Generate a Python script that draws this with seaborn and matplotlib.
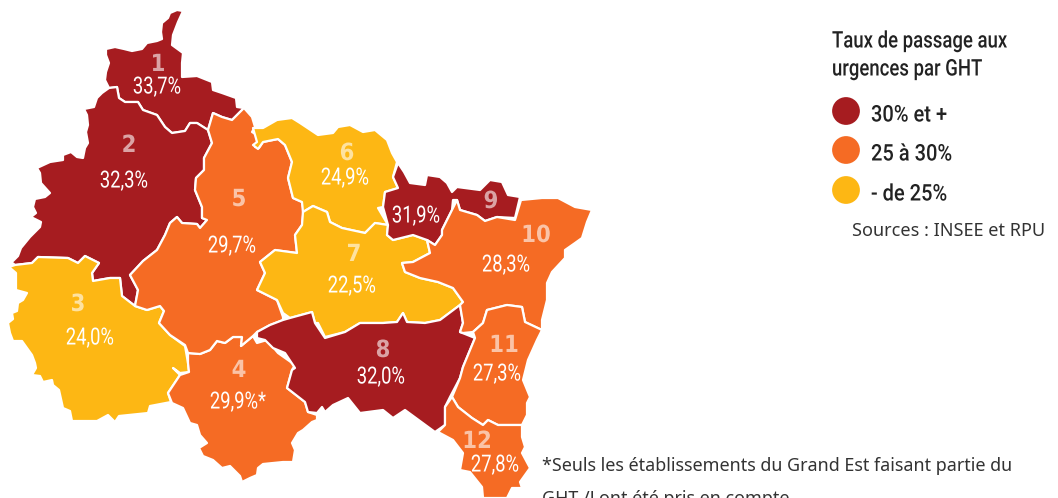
import matplotlib.patheffects as pe
import matplotlib.pyplot as plt
import pandas as pd
import seaborn as sns
from matplotlib.transforms import Affine2D

# GHT outlines (pixels)
ght_1 = [(183,11),(177,10),(170,13),(168,18),(162,23),(161,32),(162,39),(157,41),(147,43),(142,49),(132,51),(124,49),(115,47),(106,49),(106,55),(109,63),(106,72),(105,80),(109,88),(117,87),(119,98),(125,102),(138,102),(143,110),(157,115),(165,127),(172,133),(185,131),(190,123),(197,123),(208,130),(213,113),(222,117),(232,120),(244,108),(237,107),(236,98),(222,93),(213,90),(212,82),(197,76),(182,77),(182,63),(183,53),(172,45),(173,35),(178,22)]
ght_2 = [(109,88),(117,87),(119,98),(125,102),(138,102),(143,110),(157,115),(165,127),(172,133),(185,131),(190,123),(197,123),(208,130),(212,143),(204,158),(204,170),(196,178),(195,190),(202,207),(202,218),(207,220),(200,228),(197,224),(182,223),(177,217),(170,223),(165,235),(157,250),(143,261),(130,275),(138,290),(135,306),(122,296),(120,278),(110,278),(93,281),(92,273),(99,263),(85,256),(78,263),(68,258),(38,257),(32,263),(15,265),(10,261),(13,261),(18,256),(21,248),(30,237),(40,227),(41,222),(31,217),(36,213),(33,207),(35,199),(45,197),(50,193),(41,183),(40,173),(37,168),(50,162),(63,160),(63,155),(71,152),(77,157),(83,158),(85,148),(88,143),(86,132),(88,125),(87,115),(84,109),(94,107),(97,98),(102,93)]
ght_3 = [(9,267),(15,265),(32,263),(38,257),(68,258),(78,263),(85,256),(99,263),(92,273),(93,281),(110,278),(120,278),(122,296),(135,306),(147,310),(160,306),(164,311),(159,323),(170,335),(185,346),(188,363),(189,372),(180,373),(173,368),(180,375),(168,393),(171,402),(150,406),(148,413),(119,416),(115,422),(108,415),(97,421),(72,421),(70,411),(63,408),(59,390),(53,385),(52,380),(43,382),(40,376),(32,375),(36,368),(35,363),(32,355),(22,341),(13,341),(10,333),(8,323),(13,319),(12,313),(17,311),(18,303),(23,300),(27,293),(16,290),(16,273)]
ght_4 = [(188,353),(200,354),(210,350),(217,341),(225,343),(233,337),(242,337),(241,346),(253,336),(257,343),(267,340),(278,353),(295,365),(292,370),(287,388),(305,402),(308,412),(317,415),(317,420),(312,422),(303,430),(298,433),(292,443),(295,450),(293,462),(283,462),(273,463),(263,464),(258,468),(257,475),(250,478),(242,482),(240,476),(230,466),(222,468),(213,460),(203,456),(199,448),(207,443),(200,435),(197,425),(190,423),(183,408),(172,403),(168,393),(180,375),(189,372),(188,363)]
ght_5 = [(244,108),(252,117),(255,127),(252,132),(257,135),(257,143),(255,147),(259,148),(263,142),(278,139),(285,145),(292,162),(288,178),(293,198),(302,202),(303,208),(303,215),(302,225),(295,235),(297,253),(275,250),(260,262),(265,273),(257,290),(277,300),(283,317),(283,320),(270,325),(257,332),(253,336),(241,346),(242,337),(233,337),(225,343),(217,341),(210,350),(200,354),(188,353),(185,345),(170,335),(159,323),(164,311),(160,306),(147,310),(135,306),(138,290),(130,275),(143,261),(157,250),(165,235),(170,223),(177,217),(182,223),(197,224),(200,228),(207,220),(202,218),(202,207),(195,190),(196,178),(204,170),(204,158),(212,143),(208,130),(213,113),(222,117),(232,120)]
ght_6 = [(257,128),(263,128),(277,120),(292,118),(300,123),(318,135),(333,133),(338,127),(350,125),(363,132),(375,130),(387,140),(392,153),(397,162),(393,177),(398,188),(385,192),(383,207),(378,208),(388,225),(375,223),(365,233),(342,228),(330,222),(327,212),(313,206),(303,212),(302,202),(293,198),(288,178),(292,162),(285,145),(278,139),(263,142),(258,149),(253,145),(257,142),(253,128)]
ght_7 = [(303,212),(313,206),(327,212),(330,222),(342,228),(365,233),(375,223),(388,225),(387,235),(393,240),(413,235),(427,240),(430,253),(413,262),(402,263),(405,272),(420,278),(438,282),(453,288),(463,302),(460,305),(440,320),(425,323),(407,322),(403,313),(397,322),(383,323),(360,323),(345,332),(325,337),(318,323),(315,323),(312,312),(290,318),(283,313),(277,300),(257,290),(265,273),(260,262),(275,250),(297,253),(295,235),(302,225)]
ght_8 = [(257,332),(270,325),(283,320),(290,318),(312,312),(315,323),(325,338),(345,332),(360,323),(383,323),(397,322),(403,313),(407,322),(425,323),(440,320),(460,305),(463,323),(460,332),(475,338),(463,367),(460,378),(450,397),(445,407),(445,425),(435,432),(405,410),(393,418),(383,410),(360,413),(348,398),(333,405),(325,412),(322,407),(317,413),(308,412),(305,402),(287,388),(292,370),(295,368),(285,353),(273,348),(265,340),(257,338)]
ght_9 = [(398,163),(404,172),(410,183),(425,185),(427,175),(440,177),(447,183),(452,192),(457,187),(480,190),(490,180),(502,182),(508,195),(520,197),(515,218),(497,217),(485,221),(477,215),(460,210),(457,200),(453,200),(452,210),(442,230),(442,235),(435,245),(427,240),(413,235),(393,240),(387,235),(388,225),(383,207),(385,192),(398,188),(393,177)]
ght_10 = [(457,200),(460,210),(477,215),(485,221),(497,217),(515,220),(521,200),(542,198),(558,198),(575,207),(592,210),(587,222),(582,238),(575,243),(565,250),(565,258),(552,272),(547,283),(547,300),(542,320),(542,330),(525,322),(522,307),(507,305),(487,310),(483,323),(473,332),(463,333),(460,332),(463,323),(460,305),(463,302),(453,288),(438,282),(420,278),(405,272),(402,263),(413,262),(430,253),(427,240),(435,245),(442,235),(442,230),(452,210)]
ght_11 = [(475,338),(463,367),(460,378),(452,397),(458,407),(472,418),(483,425),(488,420),(498,425),(522,425),(527,415),(527,403),(530,397),(523,380),(528,360),(537,340),(542,330),(525,322),(522,307),(507,305),(487,310),(483,323),(473,332)]
ght_12 = [(452,397),(458,407),(472,418),(483,425),(488,420),(498,425),(522,425),(522,437),(525,447),(522,453),(530,468),(520,482),(522,488),(512,488),(507,498),(483,498),(482,487),(470,472),(460,470),(463,453),(453,440),(438,432),(445,425),(445,407)]

outlines = [ght_1, ght_2, ght_3, ght_4, ght_5, ght_6, ght_7, ght_8, ght_9, ght_10, ght_11, ght_12]
numbers = ['1', '2', '3', '4', '5', '6', '7', '8', '9', '10', '11', '12']
taux = ['33,7%', '32,3%', '24,0%', '29,9%*', '29,7%', '24,9%', '22,5%', '32,0%', '31,9%', '28,3%', '27,3%', '27,8%']
classes = [0, 0, 2, 1, 1, 2, 2, 0, 0, 1, 1, 1]
legend_labels = ['30% et +', '25 à 30%', '- de 25%']

number_x = [158, 129, 78, 239, 239, 347, 354, 383, 491, 536, 504, 477]
number_y = [64, 145, 304, 370, 199, 153, 254, 350, 201, 235, 345, 441]
taux_x = [157, 124, 90, 238, 232, 345, 352, 381, 416, 506, 497, 495]
taux_y = [87, 181, 338, 402, 246, 178, 286, 377, 216, 265, 374, 465]

palette = sns.color_palette(['#A61C20', '#F56B24', '#FDB714'])


class Squeeze(pe.AbstractPathEffect):
    # narrows the glyphs around x0, no condensed font is installed
    def __init__(self, x0, factor):
        super().__init__()
        self.x0 = x0
        self.factor = factor

    def draw_path(self, renderer, gc, tpath, affine, rgbFace=None):
        squeeze = Affine2D().translate(-self.x0, 0).scale(self.factor, 1).translate(self.x0, 0)
        renderer.draw_path(gc, tpath, affine + squeeze, rgbFace)


sns.set_theme(style='white')
plt.rcParams['font.family'] = ['Roboto', 'DejaVu Sans']

fig, ax = plt.subplots(figsize=(10.58, 4.98), dpi=100)
ax.set_position([0, 0, 1, 1])

for outline, c in zip(outlines, classes):
    xs, ys = zip(*outline)
    ax.fill(xs, ys, facecolor=palette[c], edgecolor='white', linewidth=1.6, joinstyle='round')

# legend
legend = pd.DataFrame({'x': [846, 846, 846], 'y': [111, 150, 190], 'label': legend_labels})
sns.scatterplot(data=legend, x='x', y='y', hue='label', palette=palette, s=400, linewidth=0, legend=False, ax=ax)
ax.set_xlim(0, 1058)
ax.set_ylim(498, 0)
ax.axis('off')

for n, x, y in zip(numbers, number_x, number_y):
    ax.text(x, y, n, color='white', alpha=0.6, fontsize=17, fontweight='bold', family=['DejaVu Sans'],
            ha='center', va='center', path_effects=[Squeeze(x, 0.9)])
for t, x, y in zip(taux, taux_x, taux_y):
    ax.text(x, y, t, color='white', fontsize=17, ha='center', va='center',
            path_effects=[Squeeze(x, 0.78)])

for label, y in zip(legend_labels, legend['y']):
    ax.text(871, y + 4, label, color='#222222', fontsize=16.5, fontweight='medium', va='center',
            path_effects=[Squeeze(871, 0.875)])
ax.text(832, 41, 'Taux de passage aux', color='#222222', fontsize=16.5, fontweight='medium', va='center',
        path_effects=[Squeeze(832, 0.81)])
ax.text(832, 69, 'urgences par GHT', color='#222222', fontsize=16.5, fontweight='medium', va='center',
        path_effects=[Squeeze(832, 0.81)])
ax.text(852, 231, 'Sources : INSEE et RPU', color='#333333', fontsize=13, family=['Noto Sans', 'DejaVu Sans'], va='center')

ax.text(542, 466, '*Seuls les établissements du Grand Est faisant partie du', color='#333333', fontsize=12.9,
        family=['Noto Sans', 'DejaVu Sans'], va='center')
ax.text(542, 499, 'GHT /Lont été pris en compte', color='#333333', fontsize=12.9,
        family=['Noto Sans', 'DejaVu Sans'], va='center')

fig.savefig('out.png', dpi=100)
